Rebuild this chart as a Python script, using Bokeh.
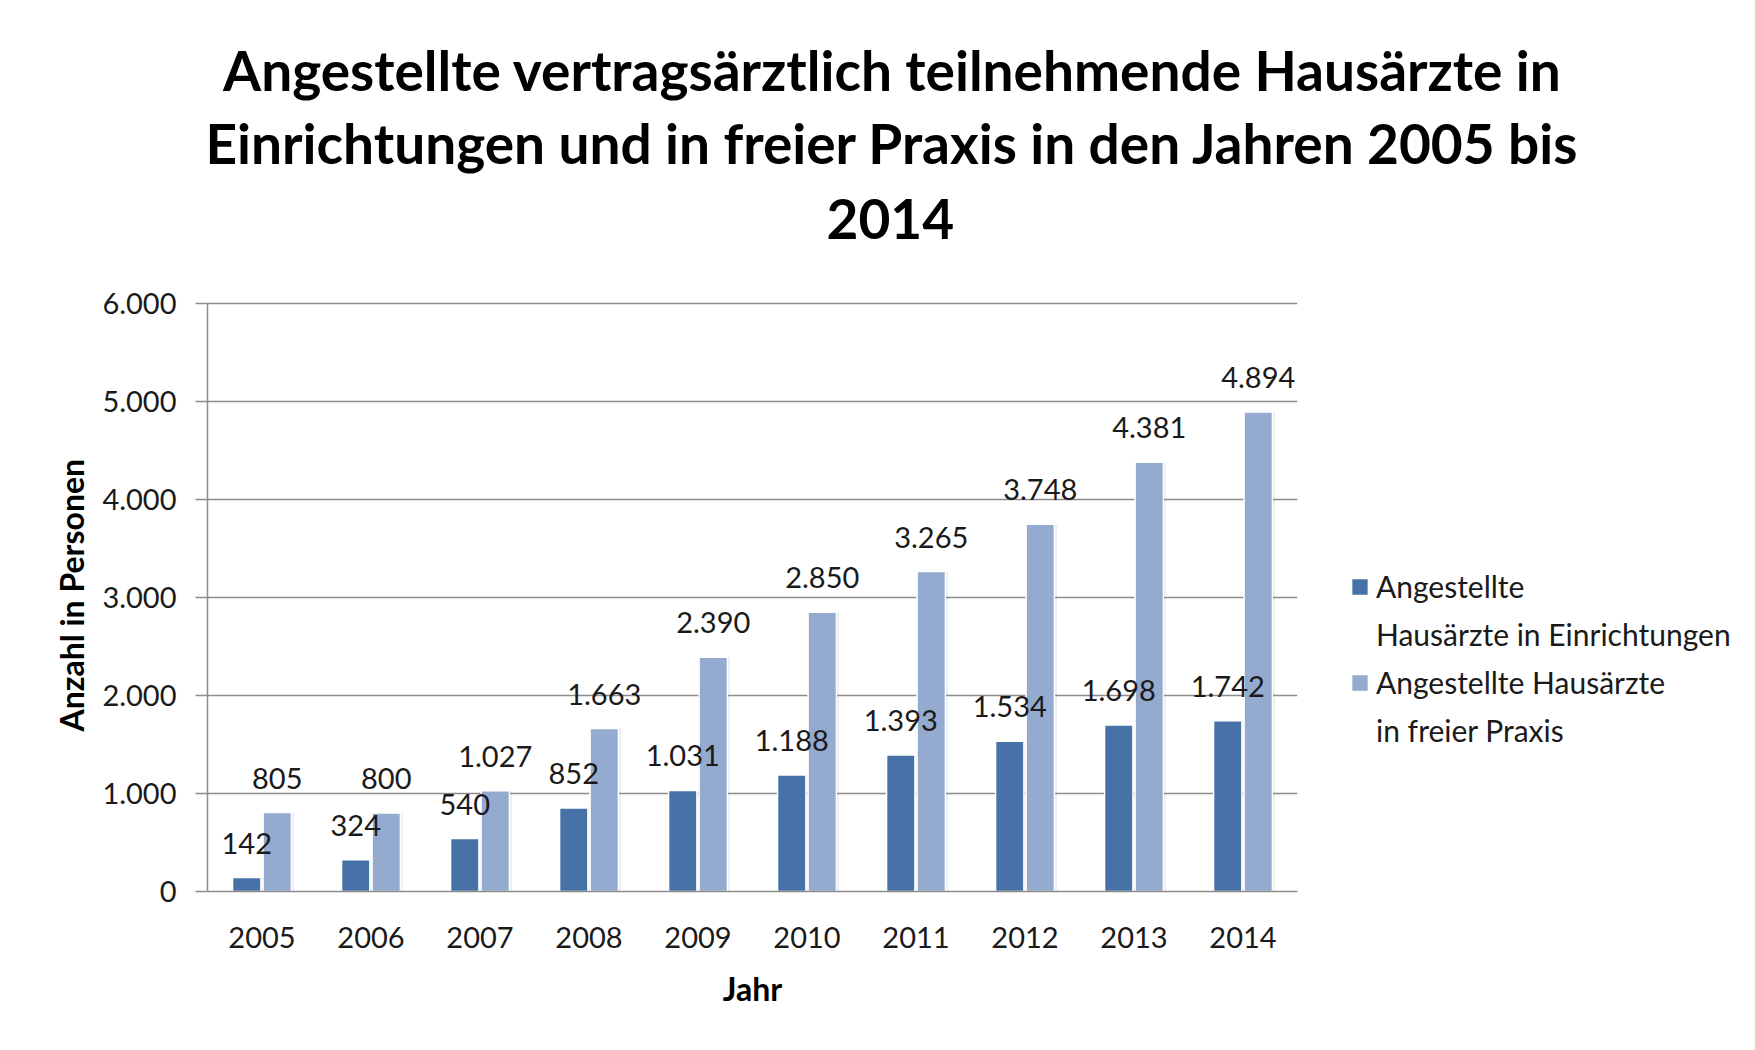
from bokeh.plotting import figure
from bokeh.models import (ColumnDataSource, FactorRange, Range1d, LabelSet, Title,
                          FixedTicker, Legend, LegendItem)
from bokeh.core.properties import value
from bokeh.transform import dodge
from bokeh.embed import file_html
from bokeh.resources import INLINE

# ---- data ----
years = ["2005", "2006", "2007", "2008", "2009", "2010", "2011", "2012", "2013", "2014"]
einrichtungen = [142, 324, 540, 852, 1031, 1188, 1393, 1534, 1698, 1742]
freie_praxis = [805, 800, 1027, 1663, 2390, 2850, 3265, 3748, 4381, 4894]
y_ticks = [0, 1000, 2000, 3000, 4000, 5000, 6000]
series_lines = [["Angestellte", "Hausärzte in Einrichtungen"], ["Angestellte Hausärzte", "in freier Praxis"]]
title_lines = ["Angestellte vertragsärztlich teilnehmende Hausärzte in",
               "Einrichtungen und in freier Praxis in den Jahren 2005 bis",
               "2014"]
x_title = "Jahr"
y_title = "Anzahl in Personen"


def de(v):
    return f"{v:,}".replace(",", ".")


FONT = "Lato"
DARK = "#4672a8"
LIGHT = "#94aacf"
TXT = "#1a1a1a"
TOTAL_W, TOTAL_H = 1738, 1032

src = ColumnDataSource(dict(
    year=years,
    ein=einrichtungen,
    frei=freie_praxis,
    ein_lbl=[de(v) for v in einrichtungen],
    frei_lbl=[de(v) for v in freie_praxis],
))

# layout: the frame reaches up to just below the title; the axis itself stops at 6.000
FL, FW = 207, 1090
Y_TOP_PX, Y_BOT_PX, FRAME_TOP = 303, 891, 256
y_max = y_ticks[-1] * (Y_BOT_PX - FRAME_TOP) / (Y_BOT_PX - Y_TOP_PX)

p = figure(x_range=FactorRange(*years), y_range=Range1d(0, y_max),
           frame_width=FW, frame_height=Y_BOT_PX - FRAME_TOP,
           min_border_left=FL, min_border_right=TOTAL_W - FL - FW, min_border_top=FRAME_TOP,
           min_border_bottom=TOTAL_H - Y_BOT_PX,
           output_backend="svg", toolbar_location=None)
p.outline_line_color = None
p.background_fill_color = "white"
p.border_fill_color = "white"

OFF = 0.14
W = 0.26
# soft shadows
p.vbar(x=dodge("year", -OFF + 0.018, range=p.x_range), top="ein", width=W + 0.01, source=src,
       fill_color="#000000", fill_alpha=0.07, line_color=None)
p.vbar(x=dodge("year", OFF + 0.018, range=p.x_range), top="frei", width=W + 0.01, source=src,
       fill_color="#000000", fill_alpha=0.07, line_color=None)
r1 = p.vbar(x=dodge("year", -OFF, range=p.x_range), top="ein", width=W, source=src,
            fill_color=DARK, line_color="white", line_width=1.5)
r2 = p.vbar(x=dodge("year", OFF, range=p.x_range), top="frei", width=W, source=src,
            fill_color=LIGHT, line_color="white", line_width=1.5)
blank = p.vbar(x=[], top=[], width=0.1, fill_alpha=0, line_alpha=0)

lbl_kw = dict(text_font=value(FONT), text_font_size="29px", text_color=TXT,
              text_align="center", text_baseline="alphabetic", y_offset=24)
p.add_layout(LabelSet(x=dodge("year", -OFF, range=p.x_range), y="ein", text="ein_lbl", source=src, **lbl_kw))
p.add_layout(LabelSet(x=dodge("year", OFF, range=p.x_range), y="frei", text="frei_lbl", source=src, **lbl_kw))

# axes
p.yaxis.ticker = FixedTicker(ticks=y_ticks)
p.yaxis.bounds = (y_ticks[0], y_ticks[-1])
p.yaxis.major_label_overrides = {t: de(t) for t in y_ticks}
p.ygrid.ticker = FixedTicker(ticks=y_ticks)
p.ygrid.grid_line_color = "#8c8c8c"
p.ygrid.grid_line_width = 1.5
p.xgrid.grid_line_color = None
for ax in (p.xaxis, p.yaxis):
    ax.axis_line_color = "#8c8c8c"
    ax.axis_line_width = 1.5
    ax.major_label_text_font = FONT
    ax.major_label_text_font_size = "29px"
    ax.major_label_text_color = TXT
    ax.minor_tick_line_color = None
    ax.axis_label_text_font = FONT
    ax.axis_label_text_font_style = "bold"
    ax.axis_label_text_font_size = "32px"
    ax.axis_label_text_color = "#000000"
p.yaxis.major_tick_line_color = "#8c8c8c"
p.yaxis.major_tick_line_width = 1.5
p.yaxis.major_tick_out = 12
p.yaxis.major_tick_in = 0
p.yaxis.major_label_standoff = 19
p.xaxis.major_tick_line_color = None
p.xaxis.major_label_standoff = 29
p.xaxis.group_text_font_size = "0px"
p.xaxis.axis_label = x_title
p.xaxis.axis_label_standoff = 18

# y-axis title as a rotated side title, centred on the 0..6.000 span
p.add_layout(Title(text=y_title, align="left", offset=160, standoff=18,
                   text_font=FONT, text_font_style="bold", text_font_size="32px",
                   text_color="#000000"), "left")

# chart title: three stacked lines (bottom line added first), centred near x=890
est_w = [1335, 1370, 128]
standoffs = [5, 5, 36]
title_cx = 890
for i in (2, 1, 0):
    p.add_layout(Title(text=title_lines[i], align="left", offset=title_cx - FL - est_w[i] / 2,
                       text_font=FONT, text_font_style="bold", text_font_size="55px",
                       text_color="#000000", standoff=standoffs[i]), "above")

legend = Legend(items=[LegendItem(label=series_lines[0][0], renderers=[r1]),
                       LegendItem(label=series_lines[0][1], renderers=[blank]),
                       LegendItem(label=series_lines[1][0], renderers=[r2]),
                       LegendItem(label=series_lines[1][1], renderers=[blank])],
                location=(52, 141), spacing=8,
                label_text_font=FONT, label_text_font_size="30px", label_text_color=TXT,
                glyph_width=21, glyph_height=21, label_height=40, padding=0, margin=0,
                label_standoff=6, border_line_color=None, background_fill_alpha=0)
p.add_layout(legend, "right")

open("out.html", "w").write(file_html(p, INLINE))
